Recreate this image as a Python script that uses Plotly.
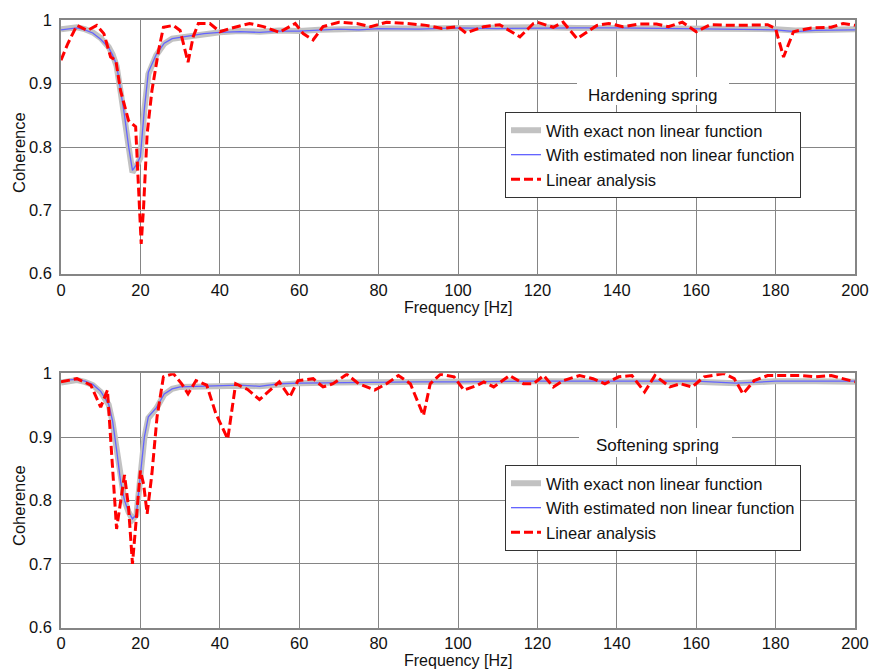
import plotly.graph_objects as go

# ---------------- data ----------------
freq_ticks = [0, 20, 40, 60, 80, 100, 120, 140, 160, 180, 200]
coh_ticks = [0.6, 0.7, 0.8, 0.9, 1.0]
coh_tick_text = ["0.6", "0.7", "0.8", "0.9", "1"]

legend_names = ["With exact non linear function",
                "With estimated non linear function",
                "Linear analysis"]
panel_titles = ["Hardening spring", "Softening spring"]
x_label = "Frequency [Hz]"
y_label = "Coherence"

# Hardening spring (top)
hard_freq_model = [0, 2, 4, 6, 8, 10, 12, 13, 14, 15, 16, 17, 18, 19, 20, 21, 22, 24, 26, 28, 30,
                   32, 34, 36, 40, 45, 50, 55, 60, 65, 70, 75, 80, 90, 100, 110, 120, 130, 140,
                   150, 160, 170, 180, 185, 190, 200]
hard_exact = [0.986, 0.988, 0.989, 0.986, 0.981, 0.972, 0.958, 0.946, 0.928, 0.888, 0.848, 0.800,
              0.760, 0.770, 0.783, 0.858, 0.915, 0.945, 0.963, 0.971, 0.973, 0.974, 0.976, 0.979,
              0.981, 0.983, 0.982, 0.984, 0.983, 0.985, 0.986, 0.985, 0.987, 0.987, 0.988, 0.988,
              0.989, 0.988, 0.988, 0.988, 0.987, 0.987, 0.986, 0.984, 0.985, 0.986]
hard_estimated = [0.985, 0.987, 0.988, 0.985, 0.980, 0.970, 0.957, 0.945, 0.930, 0.890, 0.850,
                  0.802, 0.763, 0.772, 0.785, 0.860, 0.918, 0.946, 0.964, 0.971, 0.973, 0.974,
                  0.976, 0.979, 0.981, 0.982, 0.981, 0.983, 0.983, 0.984, 0.986, 0.985, 0.987,
                  0.986, 0.988, 0.987, 0.988, 0.988, 0.988, 0.987, 0.987, 0.986, 0.985, 0.982,
                  0.984, 0.985]
hard_freq_lin = [0, 1.7, 4, 6.7, 9, 10.8, 12.5, 13.8, 15, 17, 18.8, 19.3, 19.8, 20.2, 20.8, 21.7,
                 22.9, 24.6, 25.8, 28.3, 30, 30.8, 32, 33.3, 34.6, 37.5, 40, 42.5, 47.5, 51, 55,
                 59, 61, 63.5, 66, 70, 74.5, 78, 82, 87, 92, 96, 100, 102, 106.5, 110.5, 115.6,
                 119, 120, 124, 126.5, 130, 135, 138, 141.5, 145.5, 150, 153, 156.5, 160, 163.5,
                 170, 178, 180, 182, 184.5, 189, 194, 197, 200]
hard_linear = [0.937, 0.963, 0.992, 0.984, 0.992, 0.979, 0.942, 0.937, 0.889, 0.842, 0.832,
               0.758, 0.689, 0.647, 0.705, 0.821, 0.889, 0.953, 0.989, 0.992, 0.984, 0.963, 0.934,
               0.974, 0.995, 0.995, 0.982, 0.987, 0.995, 0.990, 0.981, 0.995, 0.979, 0.969, 0.990,
               0.997, 0.995, 0.990, 0.997, 0.995, 0.992, 0.987, 0.990, 0.980, 0.990, 0.993, 0.974,
               0.995, 0.997, 0.989, 0.997, 0.971, 0.992, 0.995, 0.990, 0.994, 0.994, 0.990, 0.997,
               0.982, 0.993, 0.992, 0.993, 0.987, 0.942, 0.982, 0.988, 0.989, 0.995, 0.992]

# Softening spring (bottom)
soft_freq_model = [0, 2, 4, 6, 8, 10, 12, 13, 14, 15, 16, 17, 18, 19, 20, 21, 22, 24, 26, 28, 30,
                   35, 40, 45, 50, 55, 60, 70, 80, 90, 100, 110, 120, 130, 140, 150, 160, 170,
                   180, 190, 200]
soft_exact = [0.986, 0.989, 0.990, 0.987, 0.982, 0.971, 0.951, 0.923, 0.878, 0.830, 0.800, 0.782,
              0.770, 0.777, 0.838, 0.898, 0.930, 0.945, 0.967, 0.976, 0.979, 0.980, 0.982, 0.981,
              0.980, 0.983, 0.985, 0.986, 0.987, 0.987, 0.987, 0.988, 0.988, 0.988, 0.987, 0.988,
              0.987, 0.985, 0.988, 0.988, 0.987]
soft_estimated = [0.987, 0.990, 0.991, 0.988, 0.983, 0.972, 0.952, 0.925, 0.880, 0.830, 0.800,
                  0.782, 0.771, 0.778, 0.840, 0.900, 0.932, 0.946, 0.968, 0.976, 0.979, 0.980,
                  0.982, 0.982, 0.980, 0.984, 0.985, 0.986, 0.987, 0.987, 0.987, 0.988, 0.988,
                  0.988, 0.988, 0.988, 0.988, 0.985, 0.988, 0.988, 0.988]
soft_freq_lin = [0, 4, 7.5, 10, 11.7, 14, 16, 17, 18, 19, 20, 20.8, 21.7, 22.9, 24.2, 25.8, 28.3,
                 30.4, 32, 34, 36.7, 39, 42, 44, 47, 50, 53, 55, 57.6, 59.7, 63.5, 66, 68.5, 72,
                 75, 79, 82, 85, 88, 91.3, 93, 95.6, 99, 101.5, 105, 106.5, 109, 113, 116.5, 119,
                 121.6, 124, 126.5, 130.6, 134, 137, 140.5, 143.8, 147, 149.6, 153.4, 156, 159,
                 162, 167, 169.6, 171.8, 174.6, 178, 182, 186, 190, 194, 200]
soft_linear = [0.987, 0.992, 0.982, 0.947, 0.974, 0.755, 0.840, 0.790, 0.700, 0.774, 0.847,
               0.826, 0.779, 0.842, 0.932, 0.995, 1.000, 0.984, 0.968, 0.989, 0.982, 0.937,
               0.897, 0.984, 0.975, 0.959, 0.976, 0.987, 0.963, 0.989, 0.992, 0.979, 0.984,
               0.999, 0.984, 0.974, 0.984, 0.997, 0.984, 0.934, 0.984, 0.999, 0.995, 0.974,
               0.982, 0.987, 0.979, 0.997, 0.984, 0.984, 0.997, 0.979, 0.989, 0.997, 0.992,
               0.984, 0.995, 0.997, 0.971, 0.997, 0.979, 0.984, 0.979, 0.995, 1.000, 0.992,
               0.968, 0.989, 0.997, 0.997, 0.997, 0.995, 0.997, 0.987]

assert len(hard_freq_model) == len(hard_exact) == len(hard_estimated)
assert len(hard_freq_lin) == len(hard_linear)
assert len(soft_freq_model) == len(soft_exact) == len(soft_estimated)
assert len(soft_freq_lin) == len(soft_linear)

# ---------------- layout helpers ----------------
W, H = 872, 669
FONT = "Liberation Sans, Arial, sans-serif"


def fx(p):
    return p / W


def fy(p):
    return 1 - p / H


GRID = "#858585"
fig = go.Figure()

panels = [
    ("", "y", "legend", hard_freq_model, hard_exact, hard_estimated, hard_freq_lin, hard_linear),
    ("2", "y2", "legend2", soft_freq_model, soft_exact, soft_estimated, soft_freq_lin, soft_linear),
]
for suf, yax, leg, fm, ex, es, fl, li in panels:
    xa = "x" + suf
    fig.add_trace(go.Scatter(x=fm, y=ex, mode="lines", name=legend_names[0],
                             line=dict(color="#c2c2c2", width=6), xaxis=xa, yaxis=yax,
                             legend=leg))
    fig.add_trace(go.Scatter(x=fm, y=es, mode="lines", name=legend_names[1],
                             line=dict(color="#6464ff", width=1.3), xaxis=xa, yaxis=yax,
                             legend=leg))
    fig.add_trace(go.Scatter(x=fl, y=li, mode="lines", name=legend_names[2],
                             line=dict(color="#ff0000", width=3, dash="9px,4px"),
                             xaxis=xa, yaxis=yax, legend=leg))

axis_common = dict(showgrid=True, gridcolor=GRID, gridwidth=1, showline=True, mirror=True,
                   linecolor=GRID, linewidth=1.5, ticks="", zeroline=False,
                   tickfont=dict(family=FONT, size=16.5, color="#111"))

x_dom = [fx(61), fx(855)]
top_dom = [fy(274), fy(20)]
bot_dom = [fy(627.5), fy(373.3)]

legend_common = dict(xanchor="left", yanchor="top", bgcolor="white", bordercolor="#333",
                     borderwidth=1, font=dict(family=FONT, size=16.5, color="#111"),
                     itemwidth=30, tracegroupgap=0)

fig.update_layout(
    width=W, height=H, margin=dict(l=0, r=0, t=0, b=0),
    paper_bgcolor="white", plot_bgcolor="white",
    font=dict(family=FONT, size=17, color="#111"),
    xaxis=dict(domain=x_dom, anchor="y", range=[0, 200], tickvals=freq_ticks,
               automargin=False, ticklabelstandoff=0, **axis_common),
    yaxis=dict(domain=top_dom, anchor="x", range=[0.5995, 1.0005], tickvals=coh_ticks,
               ticktext=coh_tick_text, automargin=False, ticklabelstandoff=4, **axis_common),
    xaxis2=dict(domain=x_dom, anchor="y2", range=[0, 200], tickvals=freq_ticks,
                automargin=False, ticklabelstandoff=0, **axis_common),
    yaxis2=dict(domain=bot_dom, anchor="x2", range=[0.5995, 1.0005], tickvals=coh_ticks,
                ticktext=coh_tick_text, automargin=False, ticklabelstandoff=4, **axis_common),
    legend=dict(x=fx(505), y=fy(112), **legend_common),
    legend2=dict(x=fx(505), y=fy(465), **legend_common),
    showlegend=True,
)

# white boxes behind panel titles (they mask the grid)
for (x0, x1, y0, y1) in [(577, 729, 77, 105), (579, 732, 428, 457)]:
    fig.add_shape(type="rect", xref="paper", yref="paper", x0=fx(x0), x1=fx(x1),
                  y0=fy(y1), y1=fy(y0), fillcolor="white", line=dict(width=0), layer="above")

for txt, (cx, cy) in zip(panel_titles, [(652, 95), (657, 445)]):
    fig.add_annotation(text=txt, xref="paper", yref="paper", x=fx(cx), y=fy(cy),
                       xanchor="center", yanchor="middle", showarrow=False,
                       font=dict(family=FONT, size=17, color="#111"))

# axis titles
for cy in (308, 660):
    fig.add_annotation(text=x_label, xref="paper", yref="paper", x=fx(458), y=fy(cy),
                       xanchor="center", yanchor="middle", showarrow=False,
                       font=dict(family=FONT, size=16, color="#111"))
for cy in (153, 506):
    fig.add_annotation(text=y_label, xref="paper", yref="paper", x=fx(19), y=fy(cy),
                       xanchor="center", yanchor="middle", showarrow=False, textangle=-90,
                       font=dict(family=FONT, size=16.5, color="#111"))

fig.write_html("out.html")
